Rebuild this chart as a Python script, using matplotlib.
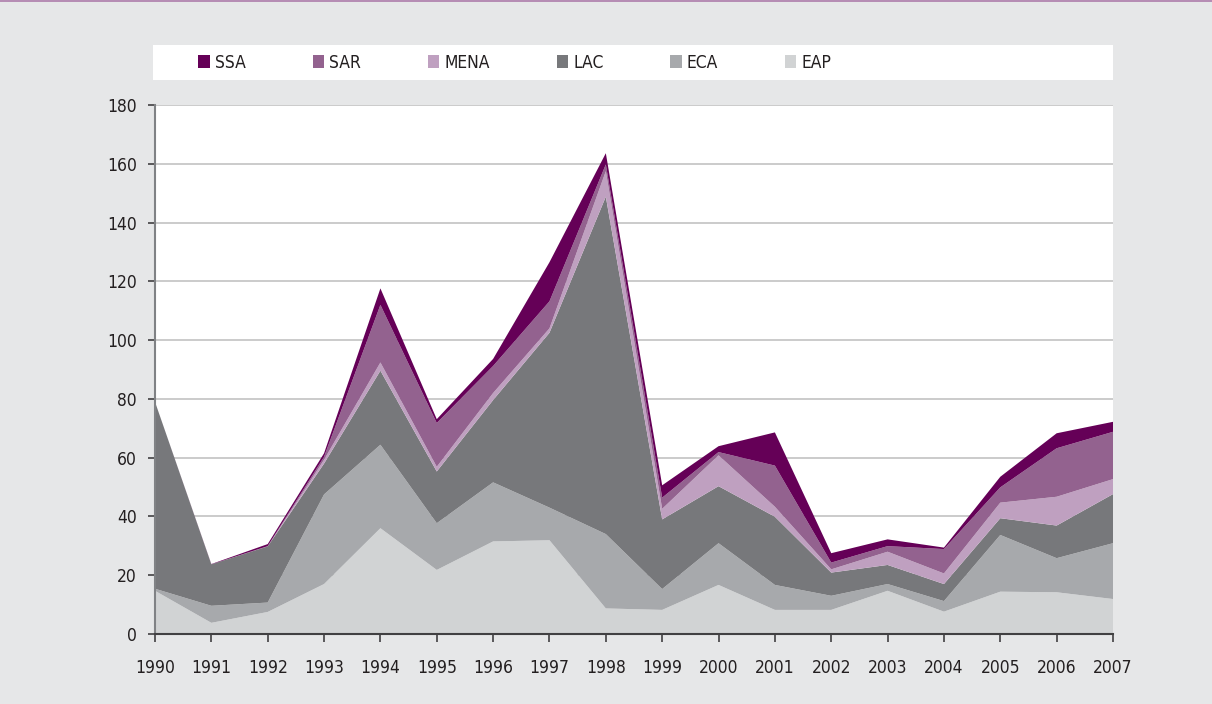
import matplotlib
matplotlib.use("Agg")
import matplotlib.pyplot as plt
from matplotlib.patches import Rectangle

# Values (per region, stacked)
years = list(range(1990, 2008))
eap = [14.7, 3.8, 7.5, 17.0, 36.0, 21.8, 31.5, 31.9, 8.7, 8.2, 16.7, 8.2, 8.2, 14.7, 7.6, 14.4, 14.2, 11.9]
eca = [0.7, 5.8, 3.2, 30.5, 28.4, 15.9, 20.1, 11.1, 25.3, 7.1, 14.2, 8.5, 4.8, 2.3, 3.6, 19.3, 11.6, 19.0]
lac = [63.6, 14.1, 19.1, 10.5, 25.2, 17.6, 28.0, 59.5, 114.8, 23.7, 19.4, 23.2, 7.9, 6.5, 5.8, 5.7, 11.1, 16.7]
mena = [0, 0, 0, 1.3, 2.8, 1.6, 2.4, 1.5, 8.7, 3.6, 10.5, 3.4, 1.1, 4.5, 3.6, 5.3, 9.8, 5.1]
sar = [0, 0, 0.1, 1.0, 19.6, 14.9, 9.2, 9.2, 2.3, 3.8, 1.1, 14.0, 2.3, 1.9, 8.3, 5.2, 16.5, 16.1]
ssa = [0, 0.1, 0.7, 1.2, 5.6, 1.3, 2.4, 13.3, 3.8, 4.2, 2.0, 11.3, 3.2, 2.3, 0.5, 3.6, 5.1, 3.4]

labels = ["EAP", "ECA", "LAC", "MENA", "SAR", "SSA"]
colors = ["#d1d3d4", "#a7a9ac", "#77787b", "#bfa0c0", "#93628f", "#650057"]
yticks = [0, 20, 40, 60, 80, 100, 120, 140, 160, 180]

plt.rcParams["font.family"] = ["DejaVu Sans"]
plt.rcParams["font.stretch"] = "condensed"

W, H = 1212, 704
fig = plt.figure(figsize=(W / 100, H / 100), dpi=100, facecolor="#e6e7e8")

# thin purple rule across the top
fig.patches.append(Rectangle((0, 1 - 2 / H), 1, 2 / H, transform=fig.transFigure,
                             facecolor="#b68db4", edgecolor="none"))

ax = fig.add_axes([155 / W, 1 - 634 / H, 958 / W, 529 / H])
ax.set_facecolor("white")
polys = ax.stackplot(years, eap, eca, lac, mena, sar, ssa, colors=colors,
                     labels=labels, linewidth=0, zorder=3)

ax.set_xlim(1990, 2007)
ax.set_ylim(0, 180)
ax.set_xticks(years)
ax.set_yticks(yticks)
ax.grid(axis="y", color="#c2c2c2", linewidth=1.2, zorder=1)
ax.set_axisbelow(True)

for s in ["top", "right"]:
    ax.spines[s].set_visible(False)
ax.spines["left"].set_color("#808285")
ax.spines["left"].set_linewidth(1.5)
ax.spines["bottom"].set_color("#414042")
ax.spines["bottom"].set_linewidth(1.5)
ax.spines["left"].set_zorder(5)
ax.spines["bottom"].set_zorder(5)

ax.tick_params(axis="x", direction="out", length=6, width=1.2, color="#414042",
               pad=12, labelsize=12.5, labelcolor="#231f20")
ax.tick_params(axis="y", direction="out", length=5, width=1.2, color="#414042",
               pad=8, labelsize=12.5, labelcolor="#231f20")

# legend band
lax = fig.add_axes([153 / W, 1 - 80 / H, 960 / W, 35 / H])
lax.set_facecolor("white")
lax.set_xticks([])
lax.set_yticks([])
for s in lax.spines.values():
    s.set_visible(False)

handles = polys[::-1]
leg = lax.legend(handles, labels[::-1], ncol=6, loc="center left",
                 bbox_to_anchor=(0.040, 0.5), frameon=False, fontsize=12.5,
                 handlelength=0.65, handleheight=0.85, handletextpad=0.3,
                 columnspacing=3.85, borderaxespad=0)
for t in leg.get_texts():
    t.set_color("#231f20")

fig.savefig("out.png", dpi=100, facecolor=fig.get_facecolor())
